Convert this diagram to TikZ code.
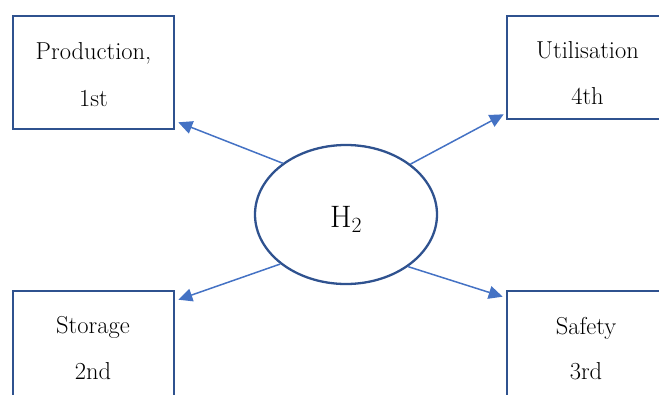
\documentclass[tikz,border=0pt]{standalone}
\usetikzlibrary{shapes.geometric,arrows.meta}
\definecolor{boxblue}{HTML}{2F528F}
\definecolor{arrblue}{HTML}{4472C4}
\begin{document}
\begin{tikzpicture}[x=1pt,y=-1pt,
  boxnode/.style={draw=boxblue,line width=2.6pt,minimum width=161pt,inner sep=0pt,fill=white},
  lbl/.style={anchor=base,inner sep=0pt,font=\fontsize{24.5}{24.5}\selectfont},
  conn/.style={draw=arrblue,line width=1.5pt,-{Triangle[length=14pt,width=13pt]}}]
\useasboundingbox (0,0) rectangle (659,394);
\clip (0,0) rectangle (659,394);
\node[boxnode,minimum height=113pt] (tl) at (93.5,72.5) {};
\node[boxnode,minimum height=103pt] (tr) at (587.5,67.5) {};
\node[boxnode,minimum height=113pt] (bl) at (93.5,347.5) {};
\node[boxnode,minimum height=113pt] (br) at (587.5,347.5) {};
\node[lbl] (t1) at (93.5,59) {Production,};
\node[lbl] (t2) at (93.5,106) {1st};
\node[lbl] (t3) at (587.5,58) {Utilisation};
\node[lbl] (t4) at (587.5,104) {4th};
\node[lbl] (t5) at (93,333) {Storage};
\node[lbl] (t6) at (93,379) {2nd};
\node[lbl] (t7) at (586,334) {Safety};
\node[lbl] (t8) at (586,379) {3rd};
\node[draw=boxblue,line width=2.3pt,ellipse,minimum width=182pt,minimum height=139pt,inner sep=0pt] (h2) at (346,214.5) {};
\node[anchor=base,inner sep=0pt,font=\fontsize{31}{31}\selectfont] (h2t) at (346,227) {H\textsubscript{2}};
\path[conn] (h2.141.7) -- ([xshift=3pt,yshift=8pt]tl.south east);
\path[conn] (h2.38.4) -- ([xshift=-2pt,yshift=6pt]tr.south west);
\path[conn] (h2.217.8) -- ([xshift=3pt,yshift=-10pt]bl.north east);
\path[conn] (h2.320) -- ([xshift=-3pt,yshift=-7pt]br.north west);
\end{tikzpicture}
\end{document}
